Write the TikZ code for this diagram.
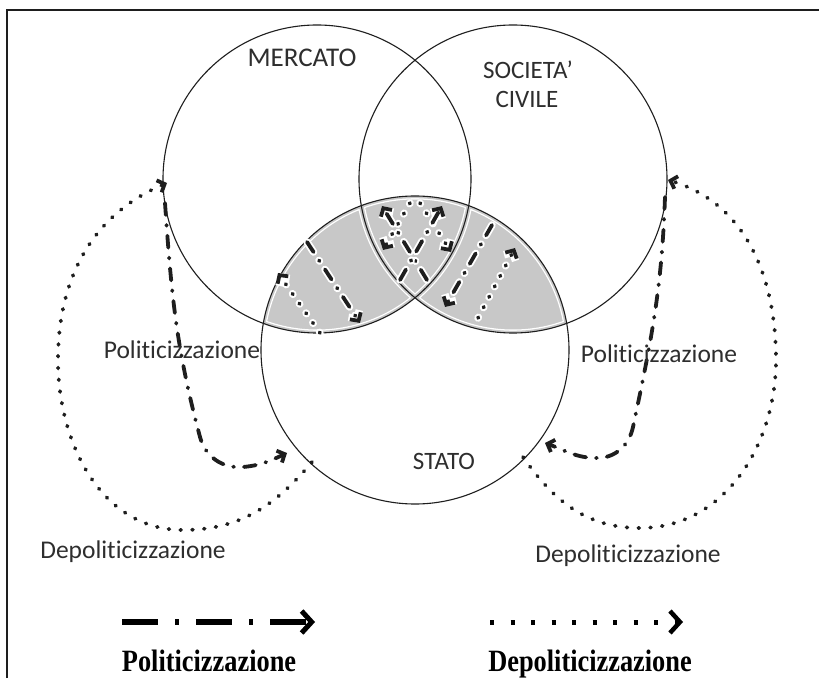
\documentclass[tikz,border=0pt]{standalone}
\usepackage{fontspec}
\setmainfont{Carlito}[Ligatures={NoCommon}]
\newfontfamily\legfont[FakeStretch=0.85]{Liberation Serif}
\usetikzlibrary{arrows.meta}
\definecolor{linec}{HTML}{1E1E1E}
\definecolor{graybg}{HTML}{C8C8C8}
\definecolor{txt}{HTML}{2E2E2E}
\begin{document}
\begin{tikzpicture}[x=1pt,y=1pt,
  circ/.style={draw=linec, line width=1.1pt},
  lab/.style={font=\fontsize{25.5}{28}\selectfont, text=txt, anchor=base, inner sep=0pt},
  caplab/.style={font=\fontsize{25}{28}\selectfont, text=txt, anchor=base, inner sep=0pt},
  leg/.style={font=\legfont\bfseries\fontsize{31}{34}\selectfont, text=black, anchor=base, inner sep=0pt},
  tip/.style={-{Straight Barb[length=6pt,width=13pt]}},
  dotpat/.style={dash pattern=on 0.8pt off 11pt},
  ddpat/.style={dash pattern=on 12pt off 10pt on 0.8pt off 10pt},
  dotline/.style={draw=linec, line width=3.8pt, line cap=round, dotpat, tip},
  ddline/.style={draw=linec, line width=3.8pt, line cap=round, ddpat, tip},
  halodot/.style={preaction={draw=white, line width=7.5pt, line cap=round, dotpat}},
  halodd/.style={preaction={draw=white, line width=7.5pt, line cap=round, ddpat}},
]
\useasboundingbox (0,0) rectangle (819,678);
\fill[white] (0,0) rectangle (819,678);
\draw[line width=1.5pt, linec] (7,0) -- (7,668) -- (819,668);

\coordinate (M) at (317,499);
\coordinate (S) at (513,499);
\coordinate (T) at (415,328);

% shaded region
\begin{scope}
  \clip (T) circle (154);
  \clip (M) circle (154) (S) circle (154);
  \fill[graybg] (0,0) rectangle (819,678);
  \draw[white, line width=7pt] (M) circle (154) (S) circle (154) (T) circle (154);
  \draw[graybg, line width=4.4pt] (M) circle (154) (S) circle (154) (T) circle (154);
\end{scope}

\draw[circ] (M) circle (154);
\draw[circ] (S) circle (154);
\draw[circ] (T) circle (154);

% inner arrows
\coordinate (l1s) at (307,436); \coordinate (l1e) at (360,355);
\coordinate (l2s) at (320,345); \coordinate (l2e) at (278,405);
\coordinate (mAs) at (427,398); \coordinate (mAe) at (382,472);
\coordinate (mBs) at (400,398); \coordinate (mBe) at (442,472);
\coordinate (mCs) at (410,475); \coordinate (mCe) at (383,428);
\coordinate (mDs) at (420,475); \coordinate (mDe) at (451,426);
\coordinate (r1s) at (492,453); \coordinate (r1e) at (445,371);
\coordinate (r2s) at (478,360); \coordinate (r2e) at (515,430);
\draw[ddline, halodd] (l1s) -- (l1e);
\draw[dotline, halodot] (l2s) -- (l2e);
\draw[dotline, halodot] (mCs) -- (mCe);
\draw[dotline, halodot] (mDs) -- (mDe);
\draw[ddline, halodd] (mAs) -- (mAe);
\draw[ddline, halodd] (mBs) -- (mBe);
\draw[ddline, halodd] (r1s) -- (r1e);
\draw[dotline, halodot] (r2s) -- (r2e);

% outer arrows left
\coordinate (dls) at (312,216);
\coordinate (dlb) at (183,148);
\coordinate (dll) at (58,318);
\coordinate (dle) at (167,495);
\draw[dotline] (dls) to[out=-130,in=0] (dlb) to[out=180,in=-90] (dll) to[out=90,in=203] (dle);
\coordinate (pls) at (165,475);
\coordinate (pl2) at (200,241);
\coordinate (pl3) at (243,211);
\coordinate (ple) at (287,225);
\draw[ddline] (pls) to[out=-86,in=105] (pl2) to[out=-75,in=185] (pl3) to[out=5,in=205] (ple);

% outer arrows right
\coordinate (drs) at (523,221);
\coordinate (drb) at (640,150);
\coordinate (drr) at (776,318);
\coordinate (dre) at (668,498);
\draw[dotline] (drs) to[out=-55,in=180] (drb) to[out=0,in=-90] (drr) to[out=90,in=-17] (dre);
\coordinate (prs) at (665,481);
\coordinate (pr2) at (633,251);
\coordinate (pr3) at (597,220);
\coordinate (pre) at (545,235);
\draw[ddline] (prs) to[out=-92,in=78] (pr2) to[out=-102,in=0] (pr3) to[out=180,in=-20] (pre);

% labels
\node[caplab, font=\fontsize{27}{30}\selectfont] (mercato) at (302,611) {MERCATO};
\node[caplab] (soc) at (528,599) {SOCIETA’};
\node[caplab] (civ) at (527,570) {CIVILE};
\node[caplab] (stato) at (444,209) {STATO};
\node[lab] (polL) at (182,319) {Politicizzazione};
\node[lab] (polR) at (659,315) {Politicizzazione};
\node[lab] (depL) at (133,120) {Depoliticizzazione};
\node[lab] (depR) at (628,116) {Depoliticizzazione};

% legend
\coordinate (lp1) at (122,56); \coordinate (lp2) at (315,56);
\coordinate (ld1) at (490,56); \coordinate (ld2) at (683,56);
\draw[black, line width=6pt, dash pattern=on 36pt off 17pt on 4pt off 17pt,
  -{Straight Barb[length=10pt,width=22pt,line width=5pt]}] (lp1) -- (lp2);
\draw[black, line width=5pt, dash pattern=on 4pt off 16.5pt,
  -{Straight Barb[length=10pt,width=22pt,line width=4.5pt]}] (ld1) -- (ld2);
\node[leg] (legP) at (209,7) {Politicizzazione};
\node[leg] (legD) at (590,7) {Depoliticizzazione};
\end{tikzpicture}
\end{document}
